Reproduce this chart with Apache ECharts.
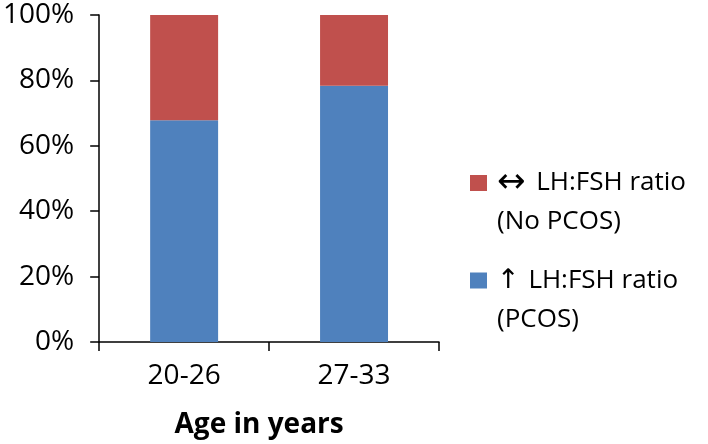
<!DOCTYPE html>
<html><head><meta charset="utf-8">
<script src="https://cdn.jsdelivr.net/npm/echarts@6/dist/echarts.min.js"></script>
<style>html,body{margin:0;padding:0;background:#fff}#c{width:708px;height:444px}</style>
</head><body><div id="c"></div>
<script>
var categories = ['20-26', '27-33'];
var pcosValues = [67.8, 78.4];
var noPcosValues = [32.2, 21.6];
var yTickLabels = ['0%', '20%', '40%', '60%', '80%', '100%'];
var nameNoPcos = '\u2194 LH:FSH ratio\n(No PCOS)';
var namePcos = '\u2191 LH:FSH ratio\n(PCOS)';
var colorNoPcos = '#c0504d';
var colorPcos = '#4f81bd';
var FONT = 'Open Sans';

var chart = echarts.init(document.getElementById('c'));
function legendFmt(name) {
  var key = name === nameNoPcos ? 'r' : 'b';
  var lines = name.split('\n');
  var arrow = lines[0].charAt(0);
  var rest = lines[0].slice(1);
  var aStyle = arrow === '\u2194' ? 'a2' : 'a1';
  return '{' + key + '| }{g| }{' + aStyle + '|' + arrow + '}{t|' + rest + '}\n{sp| }{g| }{t|' + lines[1] + '}';
}
chart.setOption({
  animation: false,
  textStyle: { fontFamily: FONT },
  grid: { left: 97, top: 15, right: 269, bottom: 97, containLabel: false },
  legend: {
    orient: 'vertical',
    left: 460,
    top: 161,
    itemGap: 32,
    itemWidth: 0,
    itemHeight: 0,
    icon: 'rect',
    selectedMode: false,
    data: [nameNoPcos, namePcos],
    formatter: legendFmt,
    textStyle: {
      padding: 0,
      rich: {
        r: { width: 17, height: 16, backgroundColor: colorNoPcos, lineHeight: 39 },
        b: { width: 17, height: 16, backgroundColor: colorPcos, lineHeight: 39 },
        sp: { width: 17, height: 16, lineHeight: 39 },
        g: { width: 10, height: 16, lineHeight: 39 },
        a1: { fontFamily: 'DejaVu Sans', fontSize: 27, color: '#000', lineHeight: 39, padding: [0, 2, 0, 0] },
        a2: { fontFamily: 'DejaVu Sans', fontSize: 34, color: '#000', lineHeight: 39, padding: [0, 4, 0, 0] },
        t: { fontFamily: FONT, fontSize: 26, color: '#000', lineHeight: 39 }
      }
    }
  },
  xAxis: {
    type: 'category',
    data: categories,
    boundaryGap: true,
    axisLine: { lineStyle: { color: '#000', width: 1.5 } },
    axisTick: { show: true, length: 9, lineStyle: { color: '#000', width: 1.5 } },
    axisLabel: { color: '#000', fontSize: 28, margin: 20, fontFamily: FONT },
    name: 'Age in years',
    nameLocation: 'middle',
    nameGap: 69,
    nameTextStyle: { color: '#000', fontSize: 28, fontWeight: 'bold', fontFamily: FONT, padding: [0, 20, 0, 0] }
  },
  yAxis: {
    type: 'value',
    min: 0, max: 100, interval: 20,
    splitLine: { show: false },
    axisLine: { show: true, lineStyle: { color: '#000', width: 1.5 } },
    axisTick: { show: true, length: 9, lineStyle: { color: '#000', width: 1.5 } },
    axisLabel: {
      color: '#000', fontSize: 28, margin: 25, fontFamily: FONT,
      formatter: function (v) { return yTickLabels[Math.round(v / 20)]; }
    }
  },
  series: [
    { name: namePcos, type: 'bar', stack: 's', barWidth: '40%', data: pcosValues, itemStyle: { color: colorPcos } },
    { name: nameNoPcos, type: 'bar', stack: 's', barWidth: '40%', data: noPcosValues, itemStyle: { color: colorNoPcos } }
  ]
});
</script></body></html>
